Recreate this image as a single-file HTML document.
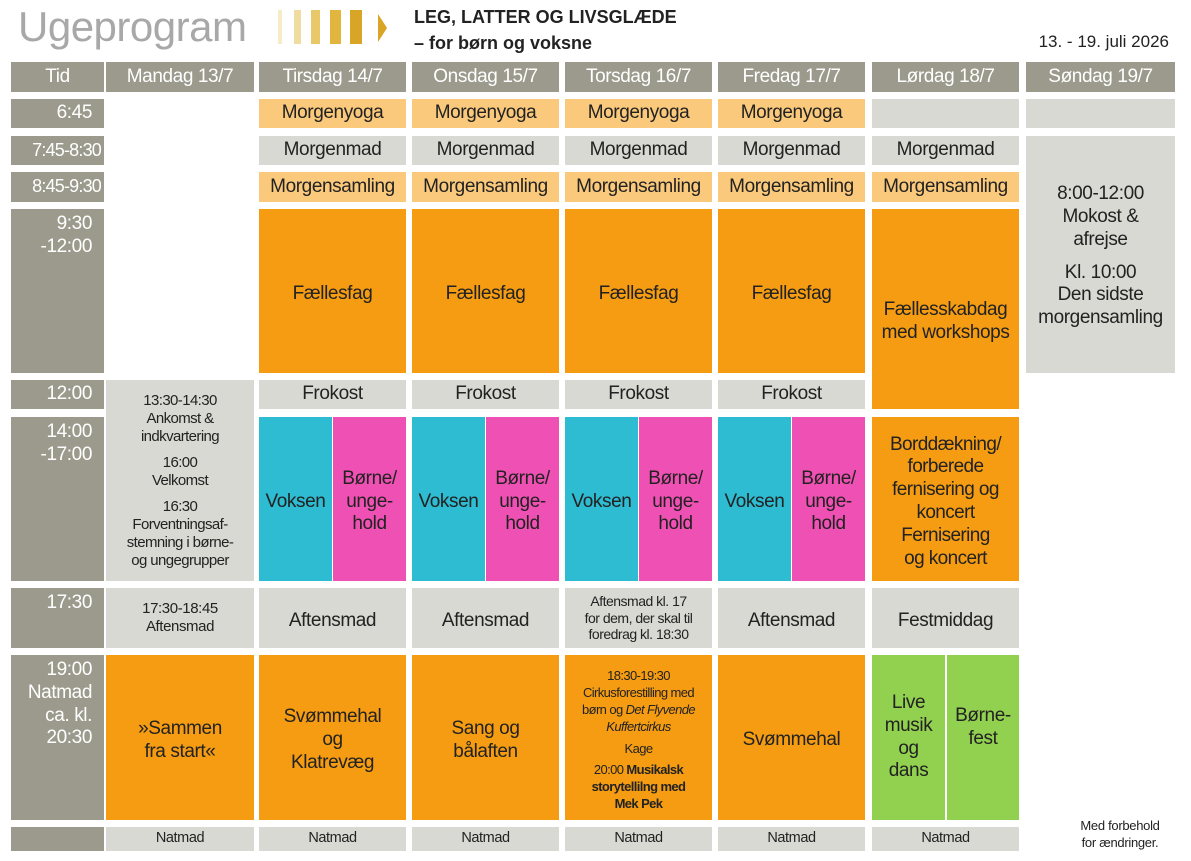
<!DOCTYPE html>
<html><head><meta charset="utf-8"><style>
body{margin:0;width:1191px;height:861px;background:#fff;position:relative;font-family:"Liberation Sans",sans-serif;overflow:hidden}
.c{position:absolute;display:flex;align-items:center;justify-content:center;text-align:center;color:#222;font-size:19px;line-height:1.2;box-sizing:border-box;letter-spacing:-0.4px}
.c>div{width:100%}
.h{background:#9b9a8c;color:#fff}
.t{background:#9b9a8c;color:#fff;justify-content:flex-end;padding-right:12px}
.t>div{text-align:right}
.g{background:#d9d9d3}
.y{background:#fbc97b}
.o{background:#f59c12}
.b{background:#2dbcd2}
.p{background:#ef50b3}
.gr{background:#92d050}
.s{font-size:14.5px;line-height:1.2}
.sp{height:8px}
.tall{padding-top:6px}
</style></head><body>
<div style="position:absolute;left:18px;top:3px;font-size:42px;color:#a8a8a8;letter-spacing:-0.5px">Ugeprogram</div>
<div style="position:absolute;left:278px;top:10px;width:4px;height:34px;background:#f7ecc8"></div>
<div style="position:absolute;left:294px;top:10px;width:7px;height:34px;background:#f0dca0"></div>
<div style="position:absolute;left:311px;top:10px;width:9px;height:34px;background:#e9c86a"></div>
<div style="position:absolute;left:330px;top:10px;width:11px;height:34px;background:#e2b63e"></div>
<div style="position:absolute;left:350px;top:10px;width:12px;height:34px;background:#d9a526"></div>
<div style="position:absolute;left:378px;top:14px;width:0;height:0;border-top:14px solid transparent;border-bottom:14px solid transparent;border-left:9px solid #d9a526"></div>
<div style="position:absolute;left:414px;top:4px;font-size:18px;font-weight:bold;color:#222;line-height:26px">LEG, LATTER OG LIVSGLÆDE<br>– for børn og voksne</div>
<div style="position:absolute;right:22px;top:32px;font-size:17px;color:#222">13. - 19. juli 2026</div>

<div class="c h" style="left:11px;top:62px;width:93px;height:30px">Tid</div>
<div class="c h" style="left:106px;top:62px;width:148px;height:30px">Mandag 13/7</div>
<div class="c h" style="left:259px;top:62px;width:147px;height:30px">Tirsdag 14/7</div>
<div class="c h" style="left:412px;top:62px;width:147px;height:30px">Onsdag 15/7</div>
<div class="c h" style="left:565px;top:62px;width:147px;height:30px">Torsdag 16/7</div>
<div class="c h" style="left:718px;top:62px;width:147px;height:30px">Fredag 17/7</div>
<div class="c h" style="left:872px;top:62px;width:147px;height:30px">Lørdag 18/7</div>
<div class="c h" style="left:1026px;top:62px;width:149px;height:30px">Søndag 19/7</div>

<div class="c t" style="left:11px;top:99px;width:93px;height:29px"><div>6:45</div></div>
<div class="c t" style="left:11px;top:136px;width:93px;height:29px;padding-right:3px;font-size:18px;letter-spacing:-0.8px"><div>7:45-8:30</div></div>
<div class="c t" style="left:11px;top:172px;width:93px;height:30px;padding-right:3px;font-size:18px;letter-spacing:-0.8px"><div>8:45-9:30</div></div>
<div class="c t" style="left:11px;top:209px;width:93px;height:164px;align-items:flex-start;padding-top:4px"><div>9:30<br>-12:00</div></div>
<div class="c t" style="left:11px;top:380px;width:93px;height:29px"><div>12:00</div></div>
<div class="c t" style="left:11px;top:417px;width:93px;height:164px;align-items:flex-start;padding-top:4px"><div>14:00<br>-17:00</div></div>
<div class="c t" style="left:11px;top:588px;width:93px;height:60px;align-items:flex-start;padding-top:4px"><div>17:30</div></div>
<div class="c t" style="left:11px;top:655px;width:93px;height:165px;align-items:flex-start;padding-top:4px"><div>19:00<br>Natmad<br>ca. kl.<br>20:30</div></div>
<div class="c t" style="left:11px;top:827px;width:93px;height:24px"></div>

<div class="c g s" style="left:106px;top:380px;width:148px;height:201px;font-size:15px;letter-spacing:-0.6px"><div>13:30-14:30<br>Ankomst &amp;<br>indkvartering<div class="sp"></div>16:00<br>Velkomst<div class="sp"></div>16:30<br>Forventningsaf-<br>stemning i børne-<br>og ungegrupper</div></div>
<div class="c g s" style="left:106px;top:588px;width:148px;height:60px;font-size:15px"><div>17:30-18:45<br>Aftensmad</div></div>
<div class="c o tall" style="left:106px;top:655px;width:148px;height:165px"><div>»Sammen<br>fra start«</div></div>
<div class="c g s" style="left:106px;top:827px;width:148px;height:24px">Natmad</div>

<div class="c y" style="left:259px;top:99px;width:147px;height:29px">Morgenyoga</div>
<div class="c y" style="left:412px;top:99px;width:147px;height:29px">Morgenyoga</div>
<div class="c y" style="left:565px;top:99px;width:147px;height:29px">Morgenyoga</div>
<div class="c y" style="left:718px;top:99px;width:147px;height:29px">Morgenyoga</div>
<div class="c g" style="left:872px;top:99px;width:147px;height:29px"></div>
<div class="c g" style="left:1026px;top:99px;width:149px;height:29px"></div>

<div class="c g" style="left:259px;top:136px;width:147px;height:29px">Morgenmad</div>
<div class="c g" style="left:412px;top:136px;width:147px;height:29px">Morgenmad</div>
<div class="c g" style="left:565px;top:136px;width:147px;height:29px">Morgenmad</div>
<div class="c g" style="left:718px;top:136px;width:147px;height:29px">Morgenmad</div>
<div class="c g" style="left:872px;top:136px;width:147px;height:29px">Morgenmad</div>
<div class="c g" style="left:1026px;top:136px;width:149px;height:237px;padding-top:4px"><div>8:00-12:00<br>Mokost &amp;<br>afrejse<div class="sp" style="height:10px"></div>Kl. 10:00<br>Den sidste<br>morgensamling</div></div>

<div class="c y" style="left:259px;top:172px;width:147px;height:30px">Morgensamling</div>
<div class="c y" style="left:412px;top:172px;width:147px;height:30px">Morgensamling</div>
<div class="c y" style="left:565px;top:172px;width:147px;height:30px">Morgensamling</div>
<div class="c y" style="left:718px;top:172px;width:147px;height:30px">Morgensamling</div>
<div class="c y" style="left:872px;top:172px;width:147px;height:30px">Morgensamling</div>

<div class="c o tall" style="left:259px;top:209px;width:147px;height:164px">Fællesfag</div>
<div class="c o tall" style="left:412px;top:209px;width:147px;height:164px">Fællesfag</div>
<div class="c o tall" style="left:565px;top:209px;width:147px;height:164px">Fællesfag</div>
<div class="c o tall" style="left:718px;top:209px;width:147px;height:164px">Fællesfag</div>
<div class="c o" style="left:872px;top:209px;width:147px;height:200px;padding-top:26px"><div>Fællesskabdag<br>med workshops</div></div>

<div class="c g" style="left:259px;top:380px;width:147px;height:29px">Frokost</div>
<div class="c g" style="left:412px;top:380px;width:147px;height:29px">Frokost</div>
<div class="c g" style="left:565px;top:380px;width:147px;height:29px">Frokost</div>
<div class="c g" style="left:718px;top:380px;width:147px;height:29px">Frokost</div>

<div class="c b tall" style="left:259px;top:417px;width:73px;height:164px">Voksen</div>
<div class="c p tall" style="left:333px;top:417px;width:73px;height:164px"><div>Børne/<br>unge-<br>hold</div></div>
<div class="c b tall" style="left:412px;top:417px;width:73px;height:164px">Voksen</div>
<div class="c p tall" style="left:486px;top:417px;width:73px;height:164px"><div>Børne/<br>unge-<br>hold</div></div>
<div class="c b tall" style="left:565px;top:417px;width:73px;height:164px">Voksen</div>
<div class="c p tall" style="left:639px;top:417px;width:73px;height:164px"><div>Børne/<br>unge-<br>hold</div></div>
<div class="c b tall" style="left:718px;top:417px;width:73px;height:164px">Voksen</div>
<div class="c p tall" style="left:792px;top:417px;width:73px;height:164px"><div>Børne/<br>unge-<br>hold</div></div>
<div class="c o tall" style="left:872px;top:417px;width:147px;height:164px;letter-spacing:-0.6px"><div>Borddækning/<br>forberede<br>fernisering og<br>koncert<br>Fernisering<br>og koncert</div></div>

<div class="c g tall" style="left:259px;top:588px;width:147px;height:60px">Aftensmad</div>
<div class="c g tall" style="left:412px;top:588px;width:147px;height:60px">Aftensmad</div>
<div class="c g s" style="left:565px;top:588px;width:147px;height:60px;font-size:14px;letter-spacing:-0.5px"><div>Aftensmad kl. 17<br>for dem, der skal til<br>foredrag kl. 18:30</div></div>
<div class="c g tall" style="left:718px;top:588px;width:147px;height:60px">Aftensmad</div>
<div class="c g tall" style="left:872px;top:588px;width:147px;height:60px">Festmiddag</div>

<div class="c o tall" style="left:259px;top:655px;width:147px;height:165px"><div>Svømmehal<br>og<br>Klatrevæg</div></div>
<div class="c o tall" style="left:412px;top:655px;width:147px;height:165px"><div>Sang og<br>bålaften</div></div>
<div class="c o" style="left:565px;top:655px;width:147px;height:165px;font-size:13px;line-height:1.3;letter-spacing:-0.6px;padding-top:6px"><div>18:30-19:30<br>Cirkusforestilling med<br>børn og <i>Det Flyvende<br>Kuffertcirkus</i><div style="height:5px"></div>Kage<div style="height:5px"></div>20:00 <b>Musikalsk<br>storytellilng med<br>Mek Pek</b></div></div>
<div class="c o tall" style="left:718px;top:655px;width:147px;height:165px">Svømmehal</div>
<div class="c gr" style="left:872px;top:655px;width:73px;height:165px"><div>Live<br>musik<br>og<br>dans</div></div>
<div class="c gr" style="left:947px;top:655px;width:72px;height:165px;padding-bottom:20px"><div>Børne-<br>fest</div></div>

<div class="c g s" style="left:259px;top:827px;width:147px;height:24px">Natmad</div>
<div class="c g s" style="left:412px;top:827px;width:147px;height:24px">Natmad</div>
<div class="c g s" style="left:565px;top:827px;width:147px;height:24px">Natmad</div>
<div class="c g s" style="left:718px;top:827px;width:147px;height:24px">Natmad</div>
<div class="c g s" style="left:872px;top:827px;width:147px;height:24px">Natmad</div>
<div style="position:absolute;left:1060px;top:817px;width:120px;text-align:center;font-size:13px;line-height:17px;color:#222;letter-spacing:-0.3px">Med forbehold<br>for ændringer.</div>
</body></html>
